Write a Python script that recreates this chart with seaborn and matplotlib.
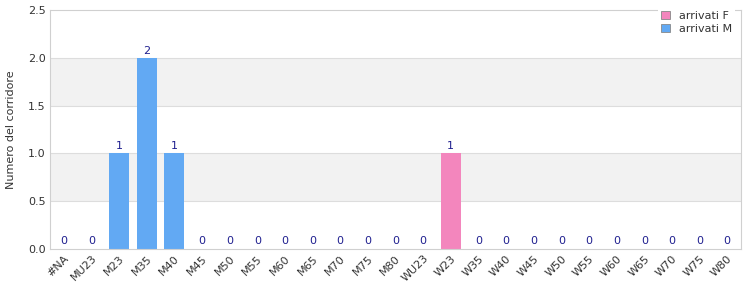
import matplotlib
matplotlib.use("Agg")
import matplotlib.pyplot as plt
import seaborn as sns
import pandas as pd

categories = ["#NA", "MU23", "M23", "M35", "M40", "M45", "M50", "M55", "M60", "M65",
              "M70", "M75", "M80", "WU23", "W23", "W35", "W40", "W45", "W50", "W55",
              "W60", "W65", "W70", "W75", "W80"]
arrivati_F = [0, 0, 0, 0, 0, 0, 0, 0, 0, 0, 0, 0, 0, 0, 1, 0, 0, 0, 0, 0, 0, 0, 0, 0, 0]
arrivati_M = [0, 0, 1, 2, 1, 0, 0, 0, 0, 0, 0, 0, 0, 0, 0, 0, 0, 0, 0, 0, 0, 0, 0, 0, 0]
series_names = ["arrivati F", "arrivati M"]
y_ticks = [0.0, 0.5, 1.0, 1.5, 2.0, 2.5]

df = pd.DataFrame({
    "cat": categories * 2,
    "val": arrivati_F + arrivati_M,
    "series": [series_names[0]] * len(categories) + [series_names[1]] * len(categories),
})

sns.set_style("white")
plt.rcParams["font.family"] = ["DejaVu Sans"]

fig = plt.figure(figsize=(7.5, 3.0), dpi=100)
ax = fig.add_axes([50 / 750, 51 / 300, 691 / 750, 239 / 300])

# alternating bands
for i in range(len(y_ticks) - 1):
    if i % 2 == 1:
        ax.axhspan(y_ticks[i], y_ticks[i + 1], color="#f2f2f2", zorder=0, lw=0)
for t in y_ticks[1:-1]:
    ax.axhline(t, color="#dddddd", lw=0.8, zorder=0.5)

sns.barplot(data=df, x="cat", y="val", hue="series", dodge=False,
            palette={"arrivati F": "#f386bd", "arrivati M": "#62a9f3"},
            width=0.72, ax=ax, zorder=2, legend=True, saturation=1,
            linewidth=0, edgecolor="none")

totals = [f + m for f, m in zip(arrivati_F, arrivati_M)]
for i, v in enumerate(totals):
    if v == 0:
        ax.text(i, 0.03, "0", ha="center", va="bottom", fontsize=8, color="#1f1f8f", zorder=3)
    else:
        ax.text(i, v + 0.02, str(v), ha="center", va="bottom", fontsize=8, color="#1f1f8f", zorder=3)

ax.set_xlim(-0.5, len(categories) - 0.5)
ax.set_ylim(0, 2.5)
ax.set_yticks(y_ticks)
ax.set_yticklabels([f"{t:.1f}" for t in y_ticks], fontsize=8, color="#333333")
ax.set_xticks(range(len(categories)))
ax.set_xticklabels(categories, rotation=45, ha="right", rotation_mode="anchor",
                   fontsize=8, color="#333333")
ax.tick_params(axis="both", length=0, pad=3)
ax.set_xlabel("")
ax.set_ylabel("Numero del corridore", fontsize=8, color="#333333", labelpad=9)
for s in ax.spines.values():
    s.set_color("#d0d0d0")
    s.set_linewidth(0.8)

handles, labels = ax.get_legend_handles_labels()
for h in handles:
    h.set_edgecolor("#888888")
    h.set_linewidth(0.6)
leg = ax.legend(handles, labels, loc="upper right", bbox_to_anchor=(1.0, 1.035),
                fontsize=8, frameon=True, framealpha=1, edgecolor="white",
                handlelength=0.8, handleheight=0.8, handletextpad=0.8,
                borderpad=0.3, labelspacing=0.3, fancybox=False)
leg.get_frame().set_linewidth(0)
for t in leg.get_texts():
    t.set_color("#333333")
leg.set_zorder(5)

fig.savefig("out.png", dpi=100)
